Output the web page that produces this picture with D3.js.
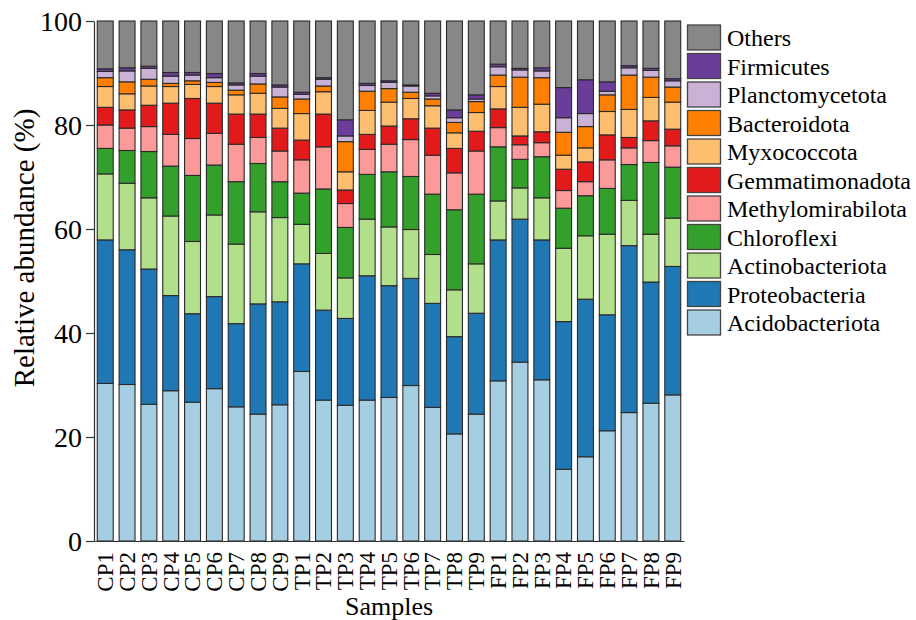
<!DOCTYPE html>
<html>
<head>
<meta charset="utf-8">
<script src="https://cdn.jsdelivr.net/npm/d3@7"></script>
<style>
  body { margin: 0; background: #fff; }
  svg { display: block; }
  text { font-family: "Liberation Serif", "Times New Roman", serif; fill: #000; }
</style>
</head>
<body>
<svg id="chart" width="916" height="620"></svg>
<script>
// Samples along the x axis
const samples = ["CP1","CP2","CP3","CP4","CP5","CP6","CP7","CP8","CP9",
                 "TP1","TP2","TP3","TP4","TP5","TP6","TP7","TP8","TP9",
                 "FP1","FP2","FP3","FP4","FP5","FP6","FP7","FP8","FP9"];

// Phyla, stacked from the bottom up
const phyla = ["Acidobacteriota","Proteobacteria","Actinobacteriota","Chloroflexi",
               "Methylomirabilota","Gemmatimonadota","Myxococcota","Bacteroidota",
               "Planctomycetota","Firmicutes","Others"];

// Relative abundance (%) of each phylum per sample
const acidobacteriota   = [30.3,30.1,26.3,28.9,26.7,29.3,25.8,24.4,26.2, 32.6,27.1,26.1,27.1,27.6,29.9,25.7,20.6,24.4, 30.8,34.4,31.0,13.8,16.2,21.2,24.7,26.5,28.1];
const proteobacteria    = [27.6,25.9,26.0,18.3,17.0,17.7,16.0,21.2,19.8, 20.7,17.3,16.7,23.9,21.5,20.6,20.0,18.7,19.4, 27.1,27.5,26.9,28.4,30.3,22.3,32.1,23.3,24.7];
const actinobacteriota  = [12.7,12.8,13.7,15.3,13.9,15.7,15.3,17.7,16.2,  7.6,10.9, 7.8,10.9,11.3, 9.4, 9.4, 9.0, 9.5,  7.5, 6.0, 8.1,14.1,12.2,15.5, 8.7, 9.2, 9.3];
const chloroflexi       = [ 4.9, 6.3, 8.9, 9.6,12.7, 9.6,12.0, 9.3, 6.9,  6.0,12.4, 9.7, 8.6,10.6,10.2,11.6,15.4,13.4, 10.4, 5.5, 7.9, 7.7, 7.7, 8.8, 6.9,13.8, 9.8];
const methylomirabilota = [ 4.5, 4.3, 4.8, 6.1, 7.1, 6.1, 7.2, 5.0, 5.9,  6.4, 8.1, 4.6, 4.8, 5.3, 7.1, 7.5, 7.1, 8.3,  3.7, 2.8, 2.7, 3.4, 2.7, 5.5, 3.2, 4.2, 4.1];
const gemmatimonadota   = [ 3.4, 3.5, 4.1, 6.0, 7.7, 5.8, 5.8, 4.5, 4.4,  3.8, 6.3, 2.6, 2.9, 3.5, 4.0, 5.2, 4.7, 3.8,  3.6, 1.7, 2.1, 4.1, 3.8, 4.8, 2.0, 3.8, 3.2];
const myxococcota       = [ 4.0, 3.1, 3.7, 3.2, 2.7, 3.2, 3.7, 4.0, 3.8,  5.1, 4.3, 3.5, 4.6, 4.6, 3.9, 4.3, 3.0, 3.6,  4.3, 5.5, 5.3, 2.7, 2.7, 4.5, 5.4, 4.5, 5.2];
const bacteroidota      = [ 1.7, 2.3, 1.3, 0.6, 0.7, 0.8, 0.9, 1.8, 2.2,  2.8, 1.1, 5.8, 3.7, 2.6, 1.2, 1.3, 2.0, 2.1,  2.2, 5.8, 5.1, 4.4, 4.1, 3.2, 6.6, 3.9, 2.9];
const planctomycetota   = [ 1.2, 2.1, 2.1, 1.4, 1.1, 0.9, 1.0, 1.5, 1.9,  0.9, 1.3, 1.1, 1.1, 1.2, 1.2, 0.6, 0.9, 0.5,  1.6, 1.4, 1.3, 2.8, 2.5, 0.7, 1.4, 1.3, 1.2];
const firmicutes        = [ 0.5, 0.6, 0.4, 0.7, 0.5, 0.8, 0.4, 0.5, 0.4,  0.4, 0.3, 3.1, 0.4, 0.3, 0.2, 0.5, 1.5, 0.8,  0.5, 0.3, 0.6, 5.8, 6.5, 1.8, 0.4, 0.4, 0.4];
const others            = [ 9.2, 9.0, 8.7, 9.9, 9.9,10.1,11.9,10.1,12.3, 13.7,10.9,19.0,12.0,11.5,12.3,13.9,17.1,14.2,  8.3, 9.1, 9.0,12.8,11.3,11.7, 8.6, 9.1,11.1];

const seriesValues = [acidobacteriota, proteobacteria, actinobacteriota, chloroflexi,
                      methylomirabilota, gemmatimonadota, myxococcota, bacteroidota,
                      planctomycetota, firmicutes, others];

const colors = ["#a6cee3","#1f78b4","#b2df8a","#33a02c","#fb9a99","#e31a1c",
                "#fdbf6f","#ff7f00","#cab2d6","#6a3d9a","#878787"];

const yTicks = [0, 20, 40, 60, 80, 100];

const serif = "'Liberation Serif', 'Times New Roman', serif";

// Table of rows for d3.stack
const rows = samples.map((s, i) => {
  const r = { sample: s };
  phyla.forEach((p, k) => { r[p] = seriesValues[k][i]; });
  return r;
});

const svg = d3.select("#chart");
const plot = { left: 94, right: 684, top: 21, bottom: 541 };

const x = d3.scaleBand()
  .domain(samples)
  .range([plot.left, plot.right])
  .paddingInner(0.27)
  .paddingOuter(0.15);

const y = d3.scaleLinear()
  .domain([0, 100])
  .range([plot.bottom, plot.top]);

const color = d3.scaleOrdinal().domain(phyla).range(colors);

const stacked = d3.stack().keys(phyla)(rows);

// Stacked bars
svg.append("g")
  .selectAll("g")
  .data(stacked)
  .join("g")
    .attr("fill", d => color(d.key))
  .selectAll("rect")
  .data(d => d)
  .join("rect")
    .attr("x", d => x(d.data.sample))
    .attr("y", d => y(d[1]))
    .attr("width", x.bandwidth())
    .attr("height", d => y(d[0]) - y(d[1]))
    .attr("stroke", "#2a2a2a")
    .attr("stroke-width", 1.1);

// Y axis
const yAxis = svg.append("g")
  .attr("transform", `translate(${plot.left},0)`)
  .call(d3.axisLeft(y).tickValues(yTicks).tickSize(8).tickSizeOuter(0).tickPadding(4));
yAxis.attr("font-family", null);
yAxis.selectAll("text")
  .style("font-family", serif)
  .style("font-size", "28px")
  .attr("dy", "0.34em");
yAxis.selectAll("line, path").attr("stroke", "#333").attr("stroke-width", 1.2);

// X axis
const xAxis = svg.append("g")
  .attr("transform", `translate(0,${plot.bottom})`)
  .call(d3.axisBottom(x).tickSize(0).tickSizeOuter(0));
xAxis.attr("font-family", null);
xAxis.select(".domain").attr("stroke", "#333").attr("stroke-width", 1.2);
xAxis.selectAll("text")
  .style("font-family", serif)
  .style("font-size", "23px")
  .attr("text-anchor", "end")
  .attr("transform", "rotate(-90)")
  .attr("x", -11)
  .attr("y", 0)
  .attr("dy", "0.34em");

// Axis titles
svg.append("text")
  .attr("transform", "translate(24,248) rotate(-90)")
  .attr("text-anchor", "middle")
  .attr("dy", "0.34em")
  .style("font-family", serif)
  .style("font-size", "29px")
  .text("Relative abundance (%)");

svg.append("text")
  .attr("x", (plot.left + plot.right) / 2)
  .attr("y", 615)
  .attr("text-anchor", "middle")
  .style("font-family", serif)
  .style("font-size", "26px")
  .text("Samples");

// Legend, top entry is the last stacked phylum
const legendOrder = phyla.slice().reverse();
const legend = svg.append("g").attr("transform", "translate(687.5,25)");
const item = legend.selectAll("g")
  .data(legendOrder)
  .join("g")
    .attr("transform", (d, i) => `translate(0,${i * 28.5})`);
item.append("rect")
  .attr("width", 33)
  .attr("height", 25)
  .attr("fill", d => color(d))
  .attr("stroke", "#444")
  .attr("stroke-width", 1.3);
item.append("text")
  .attr("x", 39.5)
  .attr("y", 12.5)
  .attr("dy", "0.36em")
  .style("font-family", serif)
  .style("font-size", "24px")
  .text(d => d);
</script>
</body>
</html>
